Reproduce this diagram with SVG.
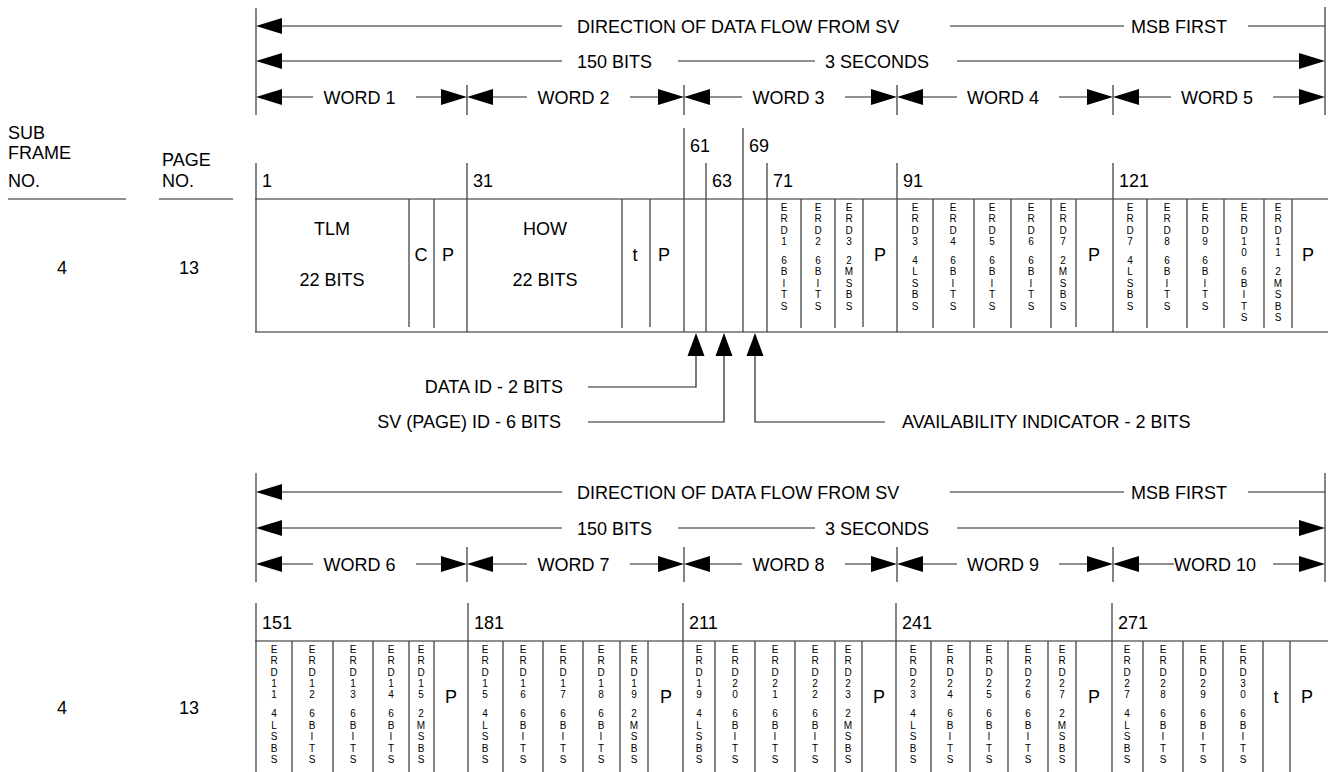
<svg xmlns="http://www.w3.org/2000/svg" xmlns:xlink="http://www.w3.org/1999/xlink" width="1328" height="772" viewBox="0 0 1328 772">
<style>
.t{font-family:"Liberation Sans",Arial,sans-serif;font-size:18px;fill:#000}
.m{text-anchor:middle}
.e{text-anchor:end}
.v{font-family:"Liberation Sans",Arial,sans-serif;font-size:10px;fill:#000;text-anchor:middle}
.ln{stroke:#222;stroke-width:1.2;fill:none}
.vl{stroke:#444;stroke-width:1.3;fill:none}
.ah{fill:#000}
</style>
<defs>
<path id="al" d="M0,0 L26,-8 L26,8 Z"/>
<path id="ar" d="M0,0 L-26,-8 L-26,8 Z"/>
<path id="au" d="M0,0 L-8.5,23 L8.5,23 Z"/>
</defs>
<rect width="1328" height="772" fill="#fff"/>

<g id="labels">
<text class="t" x="8" y="139">SUB</text>
<text class="t" x="8" y="159">FRAME</text>
<text class="t" x="8" y="187">NO.</text>
<text class="t" x="162" y="166">PAGE</text>
<text class="t" x="162" y="187">NO.</text>
<path class="ln" d="M8,199 H126 M159,199 H233"/>
<text class="t m" x="62" y="274">4</text>
<text class="t m" x="189" y="274">13</text>
<text class="t m" x="62" y="714">4</text>
<text class="t m" x="189" y="714">13</text>
</g>

<g id="header1">
<path class="vl" d="M256,8 V115 M1325,7 V115 M467,85 V115 M684,85 V115 M897,85 V115 M1113,85 V115"/>
<path class="ln" d="M282,26 H562 M950,26 H1124 M1248,26 H1325"/>
<use xlink:href="#al" class="ah" x="256" y="26"/>
<text class="t" x="577" y="32.5">DIRECTION OF DATA FLOW FROM SV</text>
<text class="t" x="1131" y="32.5">MSB FIRST</text>
<path class="ln" d="M282,61 H562 M678,61 H815 M957,61 H1299"/>
<use xlink:href="#al" class="ah" x="256" y="61"/>
<use xlink:href="#ar" class="ah" x="1325" y="61"/>
<text class="t" x="577" y="67.5">150 BITS</text>
<text class="t" x="825" y="67.5">3 SECONDS</text>
<path class="ln" d="M282,97 H313 M416,97 H441 M493,97 H527 M630,97 H658 M710,97 H742 M845,97 H871 M923,97 H957 M1059,97 H1087 M1139,97 H1171 M1273,97 H1299"/>
<use xlink:href="#al" class="ah" x="256" y="97"/><use xlink:href="#ar" class="ah" x="467" y="97"/>
<use xlink:href="#al" class="ah" x="467" y="97"/><use xlink:href="#ar" class="ah" x="684" y="97"/>
<use xlink:href="#al" class="ah" x="684" y="97"/><use xlink:href="#ar" class="ah" x="897" y="97"/>
<use xlink:href="#al" class="ah" x="897" y="97"/><use xlink:href="#ar" class="ah" x="1113" y="97"/>
<use xlink:href="#al" class="ah" x="1113" y="97"/><use xlink:href="#ar" class="ah" x="1325" y="97"/>
<text class="t m" x="359.5" y="103.5">WORD 1</text>
<text class="t m" x="573.5" y="103.5">WORD 2</text>
<text class="t m" x="788.5" y="103.5">WORD 3</text>
<text class="t m" x="1003" y="103.5">WORD 4</text>
<text class="t m" x="1217" y="103.5">WORD 5</text>
</g>

<g id="frame1">
<path class="ln" d="M255,199 H1328 M255,332 H1328"/>
<path class="vl" d="M256,163 V332 M467,163 V332 M767,163 V332 M897,163 V332 M1113,163 V332 M684,128 V332 M743,128 V332 M706,163 V332"/>
<path class="vl" d="M409,199 V327 M434,199 V328 M622,199 V328 M650,199 V327 M801,199 V328 M835,199 V328 M863,199 V327 M933,199 V328 M974,199 V328 M1011,199 V328 M1051,199 V328 M1076,199 V327 M1147,199 V328 M1187,199 V328 M1224,199 V328 M1264,199 V328 M1292,199 V328"/>
<text class="t" x="262" y="187">1</text>
<text class="t" x="473" y="187">31</text>
<text class="t" x="690" y="152">61</text>
<text class="t" x="712" y="187">63</text>
<text class="t" x="749" y="152">69</text>
<text class="t" x="773" y="187">71</text>
<text class="t" x="903" y="187">91</text>
<text class="t" x="1119" y="187">121</text>
<text class="t m" x="332" y="235">TLM</text>
<text class="t m" x="332" y="286">22 BITS</text>
<text class="t m" x="421" y="261">C</text>
<text class="t m" x="448" y="261">P</text>
<text class="t m" x="545" y="235">HOW</text>
<text class="t m" x="545" y="286">22 BITS</text>
<text class="t m" x="635" y="261">t</text>
<text class="t m" x="664" y="261">P</text>
<text class="t m" x="880" y="261">P</text>
<text class="t m" x="1094" y="261">P</text>
<text class="t m" x="1308" y="261">P</text>
<text class="v" x="784 784 784 784 784 784 784 784 784" y="211" dy="0 11.3 11.3 11.3 19 11.5 11.5 11.5 11.5">ERD16BITS</text>
<text class="v" x="818 818 818 818 818 818 818 818 818" y="211" dy="0 11.3 11.3 11.3 19 11.5 11.5 11.5 11.5">ERD26BITS</text>
<text class="v" x="849 849 849 849 849 849 849 849 849" y="211" dy="0 11.3 11.3 11.3 19 11.5 11.5 11.5 11.5">ERD32MSBS</text>
<text class="v" x="915 915 915 915 915 915 915 915 915" y="211" dy="0 11.3 11.3 11.3 19 11.5 11.5 11.5 11.5">ERD34LSBS</text>
<text class="v" x="953 953 953 953 953 953 953 953 953" y="211" dy="0 11.3 11.3 11.3 19 11.5 11.5 11.5 11.5">ERD46BITS</text>
<text class="v" x="992 992 992 992 992 992 992 992 992" y="211" dy="0 11.3 11.3 11.3 19 11.5 11.5 11.5 11.5">ERD56BITS</text>
<text class="v" x="1031 1031 1031 1031 1031 1031 1031 1031 1031" y="211" dy="0 11.3 11.3 11.3 19 11.5 11.5 11.5 11.5">ERD66BITS</text>
<text class="v" x="1063 1063 1063 1063 1063 1063 1063 1063 1063" y="211" dy="0 11.3 11.3 11.3 19 11.5 11.5 11.5 11.5">ERD72MSBS</text>
<text class="v" x="1130 1130 1130 1130 1130 1130 1130 1130 1130" y="211" dy="0 11.3 11.3 11.3 19 11.5 11.5 11.5 11.5">ERD74LSBS</text>
<text class="v" x="1167 1167 1167 1167 1167 1167 1167 1167 1167" y="211" dy="0 11.3 11.3 11.3 19 11.5 11.5 11.5 11.5">ERD86BITS</text>
<text class="v" x="1205 1205 1205 1205 1205 1205 1205 1205 1205" y="211" dy="0 11.3 11.3 11.3 19 11.5 11.5 11.5 11.5">ERD96BITS</text>
<text class="v" x="1244 1244 1244 1244 1244 1244 1244 1244 1244 1244" y="211" dy="0 11.3 11.3 11.3 11.3 19 11.5 11.5 11.5 11.5">ERD106BITS</text>
<text class="v" x="1278 1278 1278 1278 1278 1278 1278 1278 1278 1278" y="211" dy="0 11.3 11.3 11.3 11.3 19 11.5 11.5 11.5 11.5">ERD112MSBS</text>
</g>

<g id="connectors">
<use xlink:href="#au" class="ah" x="696" y="333"/>
<use xlink:href="#au" class="ah" x="724" y="333"/>
<use xlink:href="#au" class="ah" x="755" y="333"/>
<path class="ln" d="M696,356 V387 H588 M724,356 V422 H588 M755,356 V422 H885"/>
<text class="t e" x="563" y="393">DATA ID - 2 BITS</text>
<text class="t e" x="561" y="428">SV (PAGE) ID - 6 BITS</text>
<text class="t" x="902" y="428">AVAILABILITY INDICATOR - 2 BITS</text>
</g>

<g id="header2">
<path class="vl" d="M256,473 V582 M1325,473 V582 M467,547 V582 M684,547 V582 M897,547 V582 M1113,547 V582"/>
<path class="ln" d="M282,492 H562 M950,492 H1124 M1248,492 H1325"/>
<use xlink:href="#al" class="ah" x="256" y="492"/>
<text class="t" x="577" y="498.5">DIRECTION OF DATA FLOW FROM SV</text>
<text class="t" x="1131" y="498.5">MSB FIRST</text>
<path class="ln" d="M282,528 H562 M678,528 H815 M957,528 H1299"/>
<use xlink:href="#al" class="ah" x="256" y="528"/>
<use xlink:href="#ar" class="ah" x="1325" y="528"/>
<text class="t" x="577" y="534.5">150 BITS</text>
<text class="t" x="825" y="534.5">3 SECONDS</text>
<path class="ln" d="M282,564 H313 M416,564 H441 M493,564 H527 M630,564 H658 M710,564 H742 M845,564 H871 M923,564 H957 M1059,564 H1087 M1139,564 H1174 M1273,564 H1299"/>
<use xlink:href="#al" class="ah" x="256" y="564"/><use xlink:href="#ar" class="ah" x="467" y="564"/>
<use xlink:href="#al" class="ah" x="467" y="564"/><use xlink:href="#ar" class="ah" x="684" y="564"/>
<use xlink:href="#al" class="ah" x="684" y="564"/><use xlink:href="#ar" class="ah" x="897" y="564"/>
<use xlink:href="#al" class="ah" x="897" y="564"/><use xlink:href="#ar" class="ah" x="1113" y="564"/>
<use xlink:href="#al" class="ah" x="1113" y="564"/><use xlink:href="#ar" class="ah" x="1325" y="564"/>
<text class="t m" x="359.5" y="570.5">WORD 6</text>
<text class="t m" x="573.5" y="570.5">WORD 7</text>
<text class="t m" x="788.5" y="570.5">WORD 8</text>
<text class="t m" x="1003" y="570.5">WORD 9</text>
<text class="t" x="1174" y="570.5">WORD 10</text>
</g>

<g id="frame2">
<path class="ln" d="M255,641 H1328"/>
<path class="vl" d="M256,603 V772 M468,603 V772 M683,603 V772 M896,603 V772 M1112,603 V772"/>
<path class="vl" d="M292,641 V772 M333,641 V772 M373,641 V772 M409,641 V772 M434,641 V772 M503,641 V772 M543,641 V772 M583,641 V772 M620,641 V772 M648,641 V772 M715,641 V772 M755,641 V772 M795,641 V772 M835,641 V772 M862,641 V772 M931,641 V772 M970,641 V772 M1008,641 V772 M1048,641 V772 M1076,641 V772 M1143,641 V772 M1183,641 V772 M1223,641 V772 M1263,641 V772 M1290,641 V772"/>
<text class="t" x="262" y="629">151</text>
<text class="t" x="474" y="629">181</text>
<text class="t" x="689" y="629">211</text>
<text class="t" x="902" y="629">241</text>
<text class="t" x="1118" y="629">271</text>
<text class="t m" x="451" y="703">P</text>
<text class="t m" x="666" y="703">P</text>
<text class="t m" x="879" y="703">P</text>
<text class="t m" x="1094" y="703">P</text>
<text class="t m" x="1276" y="703">t</text>
<text class="t m" x="1307" y="703">P</text>
<text class="v" x="274 274 274 274 274 274 274 274 274 274" y="653" dy="0 11.3 11.3 11.3 11.3 19 11.5 11.5 11.5 11.5">ERD114LSBS</text>
<text class="v" x="312 312 312 312 312 312 312 312 312 312" y="653" dy="0 11.3 11.3 11.3 11.3 19 11.5 11.5 11.5 11.5">ERD126BITS</text>
<text class="v" x="353 353 353 353 353 353 353 353 353 353" y="653" dy="0 11.3 11.3 11.3 11.3 19 11.5 11.5 11.5 11.5">ERD136BITS</text>
<text class="v" x="391 391 391 391 391 391 391 391 391 391" y="653" dy="0 11.3 11.3 11.3 11.3 19 11.5 11.5 11.5 11.5">ERD146BITS</text>
<text class="v" x="421 421 421 421 421 421 421 421 421 421" y="653" dy="0 11.3 11.3 11.3 11.3 19 11.5 11.5 11.5 11.5">ERD152MSBS</text>
<text class="v" x="485 485 485 485 485 485 485 485 485 485" y="653" dy="0 11.3 11.3 11.3 11.3 19 11.5 11.5 11.5 11.5">ERD154LSBS</text>
<text class="v" x="523 523 523 523 523 523 523 523 523 523" y="653" dy="0 11.3 11.3 11.3 11.3 19 11.5 11.5 11.5 11.5">ERD166BITS</text>
<text class="v" x="563 563 563 563 563 563 563 563 563 563" y="653" dy="0 11.3 11.3 11.3 11.3 19 11.5 11.5 11.5 11.5">ERD176BITS</text>
<text class="v" x="601 601 601 601 601 601 601 601 601 601" y="653" dy="0 11.3 11.3 11.3 11.3 19 11.5 11.5 11.5 11.5">ERD186BITS</text>
<text class="v" x="634 634 634 634 634 634 634 634 634 634" y="653" dy="0 11.3 11.3 11.3 11.3 19 11.5 11.5 11.5 11.5">ERD192MSBS</text>
<text class="v" x="699 699 699 699 699 699 699 699 699 699" y="653" dy="0 11.3 11.3 11.3 11.3 19 11.5 11.5 11.5 11.5">ERD194LSBS</text>
<text class="v" x="735 735 735 735 735 735 735 735 735 735" y="653" dy="0 11.3 11.3 11.3 11.3 19 11.5 11.5 11.5 11.5">ERD206BITS</text>
<text class="v" x="775 775 775 775 775 775 775 775 775 775" y="653" dy="0 11.3 11.3 11.3 11.3 19 11.5 11.5 11.5 11.5">ERD216BITS</text>
<text class="v" x="815 815 815 815 815 815 815 815 815 815" y="653" dy="0 11.3 11.3 11.3 11.3 19 11.5 11.5 11.5 11.5">ERD226BITS</text>
<text class="v" x="848 848 848 848 848 848 848 848 848 848" y="653" dy="0 11.3 11.3 11.3 11.3 19 11.5 11.5 11.5 11.5">ERD232MSBS</text>
<text class="v" x="913 913 913 913 913 913 913 913 913 913" y="653" dy="0 11.3 11.3 11.3 11.3 19 11.5 11.5 11.5 11.5">ERD234LSBS</text>
<text class="v" x="950 950 950 950 950 950 950 950 950 950" y="653" dy="0 11.3 11.3 11.3 11.3 19 11.5 11.5 11.5 11.5">ERD246BITS</text>
<text class="v" x="989 989 989 989 989 989 989 989 989 989" y="653" dy="0 11.3 11.3 11.3 11.3 19 11.5 11.5 11.5 11.5">ERD256BITS</text>
<text class="v" x="1028 1028 1028 1028 1028 1028 1028 1028 1028 1028" y="653" dy="0 11.3 11.3 11.3 11.3 19 11.5 11.5 11.5 11.5">ERD266BITS</text>
<text class="v" x="1062 1062 1062 1062 1062 1062 1062 1062 1062 1062" y="653" dy="0 11.3 11.3 11.3 11.3 19 11.5 11.5 11.5 11.5">ERD272MSBS</text>
<text class="v" x="1127 1127 1127 1127 1127 1127 1127 1127 1127 1127" y="653" dy="0 11.3 11.3 11.3 11.3 19 11.5 11.5 11.5 11.5">ERD274LSBS</text>
<text class="v" x="1163 1163 1163 1163 1163 1163 1163 1163 1163 1163" y="653" dy="0 11.3 11.3 11.3 11.3 19 11.5 11.5 11.5 11.5">ERD286BITS</text>
<text class="v" x="1203 1203 1203 1203 1203 1203 1203 1203 1203 1203" y="653" dy="0 11.3 11.3 11.3 11.3 19 11.5 11.5 11.5 11.5">ERD296BITS</text>
<text class="v" x="1243 1243 1243 1243 1243 1243 1243 1243 1243 1243" y="653" dy="0 11.3 11.3 11.3 11.3 19 11.5 11.5 11.5 11.5">ERD306BITS</text>
</g>
</svg>
